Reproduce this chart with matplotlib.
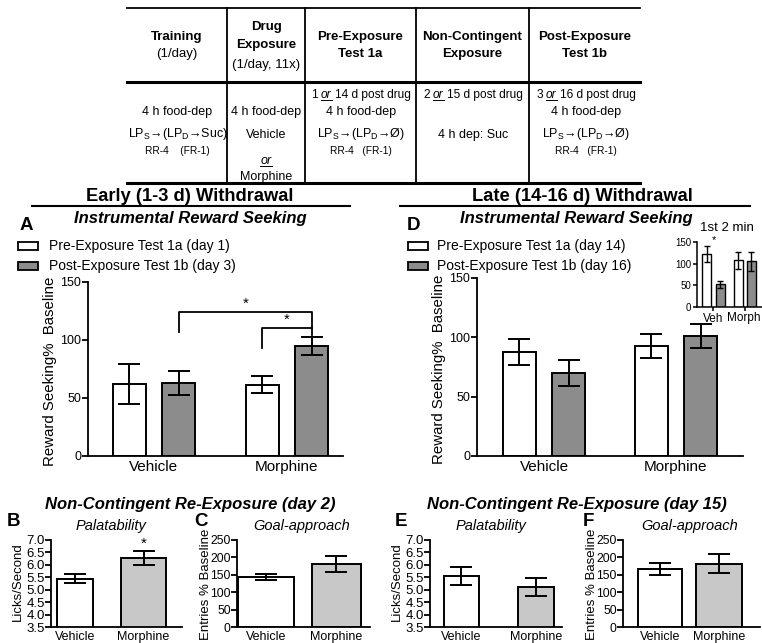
import matplotlib
matplotlib.use("Agg")
import matplotlib.pyplot as plt
from matplotlib.lines import Line2D

plt.rcParams['font.family'] = ['Liberation Sans', 'DejaVu Sans']
plt.rcParams['mathtext.default'] = 'regular'

# ---- data ----
groups = ["Vehicle", "Morphine"]

# A: early withdrawal, instrumental reward seeking (% baseline)
a_pre = [62, 61.5]
a_pre_err = [17, 7.5]
a_post = [63, 95]
a_post_err = [10, 8]

# D: late withdrawal
d_pre = [88, 93]
d_pre_err = [11, 10]
d_post = [70, 101]
d_post_err = [11, 10]

# D inset: 1st 2 min
ins_labels = ["Veh", "Morph"]
ins_pre = [122, 108]
ins_pre_err = [18, 20]
ins_post = [53, 106]
ins_post_err = [8, 22]

# B / E: palatability (licks/second)
b_vals = [5.45, 6.27]
b_err = [0.17, 0.28]
e_vals = [5.55, 5.12]
e_err = [0.37, 0.36]

# C / F: goal-approach (entries % baseline)
c_vals = [143, 180]
c_err = [9, 23]
f_vals = [167, 182]
f_err = [17, 28]

lick_ticks = [3.5, 4.0, 4.5, 5.0, 5.5, 6.0, 6.5, 7.0]
entry_ticks = [0, 50, 100, 150, 200, 250]
seek_ticks = [0, 50, 100, 150]

DARK = '#8c8c8c'
LIGHT = '#c8c8c8'

W, H = 762, 643
fig = plt.figure(figsize=(W / 100, H / 100), dpi=100)


def fx(x):
    return x / W


def fy(y):
    return 1 - y / H


def txt(x, y, s, **kw):
    ha = kw.pop('ha', 'center')
    va = kw.pop('va', 'center')
    return fig.text(fx(x), fy(y), s, ha=ha, va=va, **kw)


def hline(x0, x1, y, lw=1.3):
    fig.add_artist(Line2D([fx(x0), fx(x1)], [fy(y), fy(y)], color='k', lw=lw))


def vline(x, y0, y1, lw=1.3):
    fig.add_artist(Line2D([fx(x), fx(x)], [fy(y0), fy(y1)], color='k', lw=lw))


def add_ax(l, t, r, b):
    return fig.add_axes([l / W, 1 - b / H, (r - l) / W, (b - t) / H])


renderer = fig.canvas.get_renderer()


def rich(xc, yc, pieces, size=8.5):
    # pieces: (text, style, underline); a space is put between pieces
    sp = (fig.text(0, 0, "x x", fontsize=size).get_window_extent(renderer).width
          - fig.text(0, 0, "xx", fontsize=size).get_window_extent(renderer).width)
    for t in fig.texts[-2:]:
        t.remove()
    objs = []
    for s, style, ul in pieces:
        t = fig.text(0, 0, s, fontsize=size, fontstyle=style, ha='left', va='center')
        objs.append((t, ul, t.get_window_extent(renderer).width))
    total = sum(w for _, _, w in objs) + sp * (len(objs) - 1)
    x = xc - total / 2
    for t, ul, w in objs:
        t.set_position((fx(x), fy(yc)))
        if ul:
            hline(x, x + w, yc + 5, lw=0.7)
        x += w + sp


def style_ax(ax, ylim, yticks, xlim, xlabels, ysize=9, xsize=11, ticklab=None):
    for s in ('top', 'right'):
        ax.spines[s].set_visible(False)
    for s in ('left', 'bottom'):
        ax.spines[s].set_linewidth(1.3)
    ax.set_ylim(*ylim)
    ax.set_yticks(yticks)
    if ticklab is not None:
        ax.set_yticklabels(ticklab)
    ax.set_xlim(*xlim)
    ax.set_xticks([0, 1])
    ax.set_xticklabels(xlabels)
    ax.tick_params(axis='y', direction='out', length=4, width=1.3, labelsize=ysize, pad=1)
    ax.tick_params(axis='x', length=0, labelsize=xsize, pad=3)
    ax.patch.set_alpha(0)


def bars(ax, xs, vals, errs, color, width, cap=8, lw=1.4):
    ax.bar(xs, vals, width=width, color=color, edgecolor='black', linewidth=lw, zorder=2)
    ax.errorbar(xs, vals, yerr=errs, fmt='none', ecolor='black', elinewidth=lw,
                capsize=cap, capthick=lw, zorder=3)


# ---- protocol table ----
hline(127, 640, 8, lw=1.3)
hline(127, 640, 82, lw=2.2)
hline(127, 640, 183, lw=2.2)
for xv in (227, 305, 416, 529):
    vline(xv, 8, 183, lw=1.3)

hs = 9.5
txt(177, 37, "Training", fontsize=hs, fontweight='bold')
txt(177, 54, "(1/day)", fontsize=hs)
txt(266, 27, "Drug", fontsize=hs, fontweight='bold')
txt(266, 45, "Exposure", fontsize=hs, fontweight='bold')
txt(266, 65, "(1/day, 11x)", fontsize=hs)
txt(360, 37, "Pre-Exposure", fontsize=hs, fontweight='bold')
txt(360, 54, "Test 1a", fontsize=hs, fontweight='bold')
txt(472, 37, "Non-Contingent", fontsize=hs, fontweight='bold')
txt(472, 54, "Exposure", fontsize=hs, fontweight='bold')
txt(585, 37, "Post-Exposure", fontsize=hs, fontweight='bold')
txt(585, 54, "Test 1b", fontsize=hs, fontweight='bold')

bs = 9.0
ds = 8.6
ss = 7.3
txt(177, 112, "4 h food-dep", fontsize=bs)
txt(178, 134, "LP$_S$→(LP$_D$→Suc)", fontsize=bs)
txt(177, 151, "RR-4    (FR-1)", fontsize=ss)
txt(266, 112, "4 h food-dep", fontsize=bs)
txt(266, 135, "Vehicle", fontsize=bs)
rich(266, 161, [("or", 'italic', True)], size=bs)
txt(266, 177, "Morphine", fontsize=bs)
rich(361, 95, [("1", 'normal', False), ("or", 'italic', True), ("14 d post drug", 'normal', False)], size=ds)
txt(361, 112, "4 h food-dep", fontsize=bs)
txt(361, 134, "LP$_S$→(LP$_D$→Ø)", fontsize=bs)
txt(361, 151, "RR-4   (FR-1)", fontsize=ss)
rich(473, 95, [("2", 'normal', False), ("or", 'italic', True), ("15 d post drug", 'normal', False)], size=ds)
txt(473, 135, "4 h dep: Suc", fontsize=bs)
rich(586, 95, [("3", 'normal', False), ("or", 'italic', True), ("16 d post drug", 'normal', False)], size=ds)
txt(586, 112, "4 h food-dep", fontsize=bs)
txt(586, 134, "LP$_S$→(LP$_D$→Ø)", fontsize=bs)
txt(586, 151, "RR-4   (FR-1)", fontsize=ss)

# ---- section headers ----
txt(190, 196, "Early (1-3 d) Withdrawal", fontsize=13.2, fontweight='bold')
hline(32, 350, 206, lw=1.5)
txt(582, 196, "Late (14-16 d) Withdrawal", fontsize=13.2, fontweight='bold')
hline(400, 750, 206, lw=1.5)

sub_kw = dict(fontsize=12, fontweight='bold', fontstyle='italic')
txt(190, 219, "Instrumental Reward Seeking", **sub_kw)
txt(576, 219, "Instrumental Reward Seeking", **sub_kw)
txt(26, 226, "A", fontsize=13.5, fontweight='bold')
txt(414, 226, "D", fontsize=13.5, fontweight='bold')


def legend(x_box, x_text, days):
    for yc, col, lab in ((246, 'white', "Pre-Exposure Test 1a (day %s)" % days[0]),
                         (266, DARK, "Post-Exposure Test 1b (day %s)" % days[1])):
        fig.add_artist(plt.Rectangle((fx(x_box), fy(yc + 4)), 20 / W, 8 / H,
                                     facecolor=col, edgecolor='black', lw=1.3))
        txt(x_text, yc, lab, fontsize=10, ha='left')


legend(18, 49, ("1", "3"))
legend(408, 437, ("14", "16"))

off, bw = 0.186, 0.248
ylab = "Reward Seeking%  Baseline"

# ---- A ----
axA = add_ax(88, 282, 343, 456)
style_ax(axA, (0, 150), seek_ticks, (-0.496, 1.421), groups)
bars(axA, [0 - off, 1 - off], a_pre, a_pre_err, 'white', bw)
bars(axA, [0 + off, 1 + off], a_post, a_post_err, DARK, bw)
axA.plot([off, off, 1 + off, 1 + off], [107, 124, 124, 104], color='k', lw=1.3)
axA.plot([1 - off, 1 - off, 1 + off], [93, 110, 110], color='k', lw=1.3)
axA.text(0.5 + off, 125, "*", ha='center', va='bottom', fontsize=11)
axA.text(1, 111, "*", ha='center', va='bottom', fontsize=11)
txt(50, 371, ylab, fontsize=10.8, rotation=90)

# ---- D ----
axD = add_ax(477, 278, 743, 456)
style_ax(axD, (0, 150), seek_ticks, (-0.508, 1.508), groups)
bars(axD, [0 - off, 1 - off], d_pre, d_pre_err, 'white', bw)
bars(axD, [0 + off, 1 + off], d_post, d_post_err, DARK, bw)
txt(439, 369, ylab, fontsize=10.8, rotation=90)

# ---- D inset ----
axI = add_ax(697, 242, 772, 307)
style_ax(axI, (0, 150), seek_ticks, (-0.53, 1.88), [ins_labels[0], ""], ysize=7, xsize=8.5)
axI.tick_params(axis='x', length=3, width=1.1, pad=1)
axI.tick_params(axis='y', length=3, width=1.1)
for s in ('left', 'bottom'):
    axI.spines[s].set_linewidth(1.1)
# second label sits against the right edge of the figure
txt(761, 318, ins_labels[1], ha='right', fontsize=8.5)
ioff, ibw = 0.21, 0.29
bars(axI, [0 - ioff, 1 - ioff], ins_pre, ins_pre_err, 'white', ibw, cap=2.5, lw=1.0)
bars(axI, [0 + ioff, 1 + ioff], ins_post, ins_post_err, DARK, ibw, cap=2.5, lw=1.0)
axI.text(0, 143, "*", ha='center', va='bottom', fontsize=8, clip_on=False)
txt(727, 228, "1st 2 min", fontsize=9.5)

# ---- bottom row headers ----
txt(190, 505, "Non-Contingent Re-Exposure (day 2)", **sub_kw)
txt(577, 505, "Non-Contingent Re-Exposure (day 15)", **sub_kw)
for x, s in ((14, "B"), (201, "C"), (401, "E"), (588, "F")):
    txt(x, 521, s, fontsize=13.5, fontweight='bold')
for x, s in ((111, "Palatability"), (302, "Goal-approach"),
             (491, "Palatability"), (690, "Goal-approach")):
    txt(x, 526, s, fontsize=10.5, fontstyle='italic')

lick_lab = ["%.1f" % v for v in lick_ticks]

# ---- B ----
axB = add_ax(51, 540, 182, 627)
style_ax(axB, (3.5, 7.0), lick_ticks, (-0.35, 1.56), groups, ysize=9.5, xsize=9, ticklab=lick_lab)
axB.tick_params(axis='y', pad=0.5)
bars(axB, [0], b_vals[:1], b_err[:1], 'white', 0.52)
bars(axB, [1], b_vals[1:], b_err[1:], LIGHT, 0.66)
axB.text(1, 6.58, "*", ha='center', va='bottom', fontsize=11)
txt(18, 582, "Licks/Second", fontsize=9.5, rotation=90)

# ---- C ----
axC = add_ax(237, 540, 370, 627)
style_ax(axC, (0, 250), entry_ticks, (-0.42, 1.48), groups, ysize=8.8, xsize=9)
axC.tick_params(axis='y', pad=0.5)
bars(axC, [0], c_vals[:1], c_err[:1], 'white', 0.8)
bars(axC, [1], c_vals[1:], c_err[1:], LIGHT, 0.7)
txt(206, 584, "Entries % Baseline", fontsize=9.5, rotation=90)

# ---- E ----
axE = add_ax(430, 540, 562, 627)
style_ax(axE, (3.5, 7.0), lick_ticks, (-0.42, 1.35), groups, ysize=9.5, xsize=9, ticklab=lick_lab)
axE.tick_params(axis='y', pad=0.5)
bars(axE, [0], e_vals[:1], e_err[:1], 'white', 0.47)
bars(axE, [1], e_vals[1:], e_err[1:], LIGHT, 0.48)
txt(397, 582, "Licks/Second", fontsize=9.5, rotation=90)

# ---- F ----
axF = add_ax(623, 540, 760, 627)
style_ax(axF, (0, 250), entry_ticks, (-0.63, 1.69), groups, ysize=8.8, xsize=9)
axF.tick_params(axis='y', pad=0.5)
bars(axF, [0], f_vals[:1], f_err[:1], 'white', 0.75)
bars(axF, [1], f_vals[1:], f_err[1:], LIGHT, 0.78)
txt(592, 584, "Entries % Baseline", fontsize=9.5, rotation=90)

fig.savefig("out.png", dpi=100)
